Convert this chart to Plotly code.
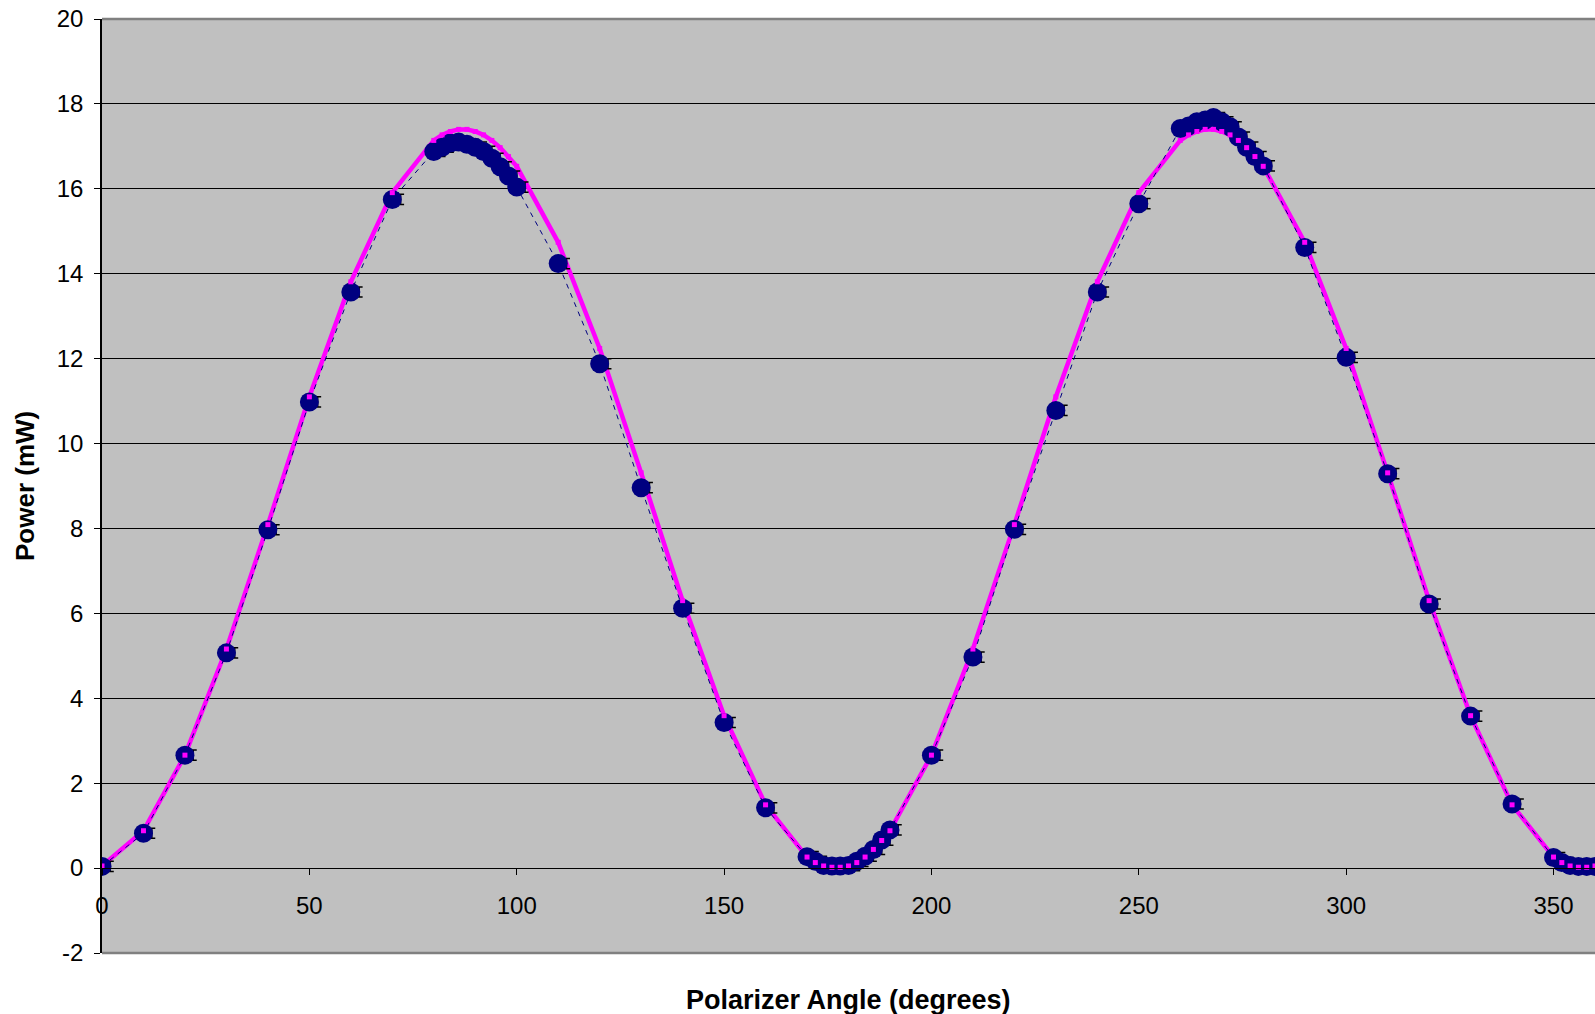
import plotly.graph_objects as go

angle_deg = [0, 10, 20, 30, 40, 50, 60, 70, 80, 82, 84, 86, 88, 90, 92, 94, 96, 98, 100,
             110, 120, 130, 140, 150, 160, 170, 172, 174, 176, 178, 180, 182, 184, 186, 188, 190,
             200, 210, 220, 230, 240, 250, 260, 262, 264, 266, 268, 270, 272, 274, 276, 278, 280,
             290, 300, 310, 320, 330, 340, 350, 352, 354, 356, 358, 360]

power_mw = [0.04, 0.82, 2.66, 5.07, 7.97, 10.98, 13.57, 15.75, 16.88, 16.98, 17.08, 17.10, 17.05,
            16.98, 16.88, 16.72, 16.52, 16.30, 16.04,
            14.24, 11.88, 8.96, 6.12, 3.43, 1.42, 0.27, 0.16, 0.06, 0.05, 0.05, 0.06, 0.16, 0.28,
            0.44, 0.66, 0.90,
            2.66, 4.97, 7.98, 10.78, 13.57, 15.65, 17.42, 17.48, 17.58, 17.62, 17.68, 17.58, 17.46,
            17.22, 16.98, 16.76, 16.54,
            14.62, 12.03, 9.29, 6.22, 3.58, 1.51, 0.25, 0.13, 0.06, 0.04, 0.04, 0.04]

fit_mw = [0.05, 0.88, 2.66, 5.16, 8.09, 11.10, 13.81, 15.91, 17.14, 17.27, 17.35, 17.40, 17.40,
          17.35, 17.27, 17.14, 16.97, 16.76, 16.53,
          14.74, 12.24, 9.31, 6.30, 3.59, 1.49, 0.26, 0.13, 0.05, 0.02, 0.02, 0.05, 0.13, 0.26,
          0.44, 0.65, 0.88,
          2.66, 5.16, 8.09, 11.10, 13.81, 15.91, 17.14, 17.27, 17.35, 17.40, 17.40, 17.35, 17.27,
          17.14, 16.97, 16.76, 16.53,
          14.74, 12.24, 9.31, 6.30, 3.59, 1.49, 0.26, 0.13, 0.05, 0.02, 0.02, 0.05]

error_mw = 0.12
x_ticks = [0, 50, 100, 150, 200, 250, 300, 350]
y_ticks = [-2, 0, 2, 4, 6, 8, 10, 12, 14, 16, 18, 20]
y_tick_labels = ["-2", "0", "2", "4", "6", "8", "10", "12", "14", "16", "18", "20"]
x_range = [0, 360]
y_range = [-2, 20]

FONT = "Liberation Sans, Arial, sans-serif"
NAVY = "#000080"
MAGENTA = "#FF00FF"

fig = go.Figure()

# fit line (below markers)
fig.add_trace(go.Scatter(x=angle_deg, y=fit_mw, mode="lines",
                         line=dict(color=MAGENTA, width=4.5), hoverinfo="skip",
                         showlegend=False))

# error bars (drawn slightly to the right, as in the original)
fig.add_trace(go.Scatter(x=[a + 2 for a in angle_deg], y=power_mw, mode="markers",
                         marker=dict(size=1, opacity=0),
                         error_y=dict(type="constant", value=error_mw, color="black",
                                      thickness=1.5, width=3.5),
                         hoverinfo="skip", showlegend=False))

# measured data
fig.add_trace(go.Scatter(x=angle_deg, y=power_mw, mode="lines+markers",
                         line=dict(color=NAVY, width=1, dash="5px,5px"),
                         marker=dict(color=NAVY, size=19, symbol="circle"),
                         showlegend=False))

# fit points on top
fig.add_trace(go.Scatter(x=angle_deg, y=fit_mw, mode="markers",
                         marker=dict(color=MAGENTA, size=5, symbol="square"),
                         showlegend=False))

x_pos = (0 - y_range[0]) / (y_range[1] - y_range[0])

fig.update_layout(
    width=1595, height=1014,
    margin=dict(l=102, r=0, t=19, b=61),
    paper_bgcolor="white",
    plot_bgcolor="#C0C0C0",
    font=dict(family=FONT, size=24, color="black"),
    xaxis=dict(range=x_range, tickvals=x_ticks, showgrid=False, zeroline=False,
               showline=True, linecolor="black", linewidth=1,
               ticks="outside", ticklen=6, tickcolor="black", tickwidth=1,
               anchor="free", position=x_pos, ticklabelstandoff=10,
               tickfont=dict(size=24)),
    yaxis=dict(range=y_range, tickvals=y_ticks, ticktext=y_tick_labels,
               showgrid=True, gridcolor="black",
               gridwidth=1, zeroline=False, showline=True, linecolor="black",
               linewidth=1.5, ticks="outside", ticklen=6, tickcolor="black",
               tickfont=dict(size=24), ticklabelstandoff=6),
    shapes=[
        dict(type="line", xref="x domain", yref="y domain", x0=0, x1=1, y0=1, y1=1,
             line=dict(color="#808080", width=2.5)),
        dict(type="line", xref="x domain", yref="y domain", x0=0, x1=1, y0=0, y1=0,
             line=dict(color="#808080", width=2.5)),
    ],
    annotations=[
        dict(text="<b>Polarizer Angle (degrees)</b>", xref="paper", yref="paper",
             x=0.5, y=0, yshift=-47, xanchor="center", yanchor="middle",
             showarrow=False, font=dict(size=27)),
        dict(text="<b>Power (mW)</b>", xref="paper", yref="paper", x=0, xshift=-77,
             y=0.5, textangle=-90, xanchor="center", yanchor="middle",
             showarrow=False, font=dict(size=26)),
    ],
)

fig.write_html("out.html", config={"displayModeBar": False},
               post_script="document.body.style.margin='0';document.body.style.overflow='hidden';")
